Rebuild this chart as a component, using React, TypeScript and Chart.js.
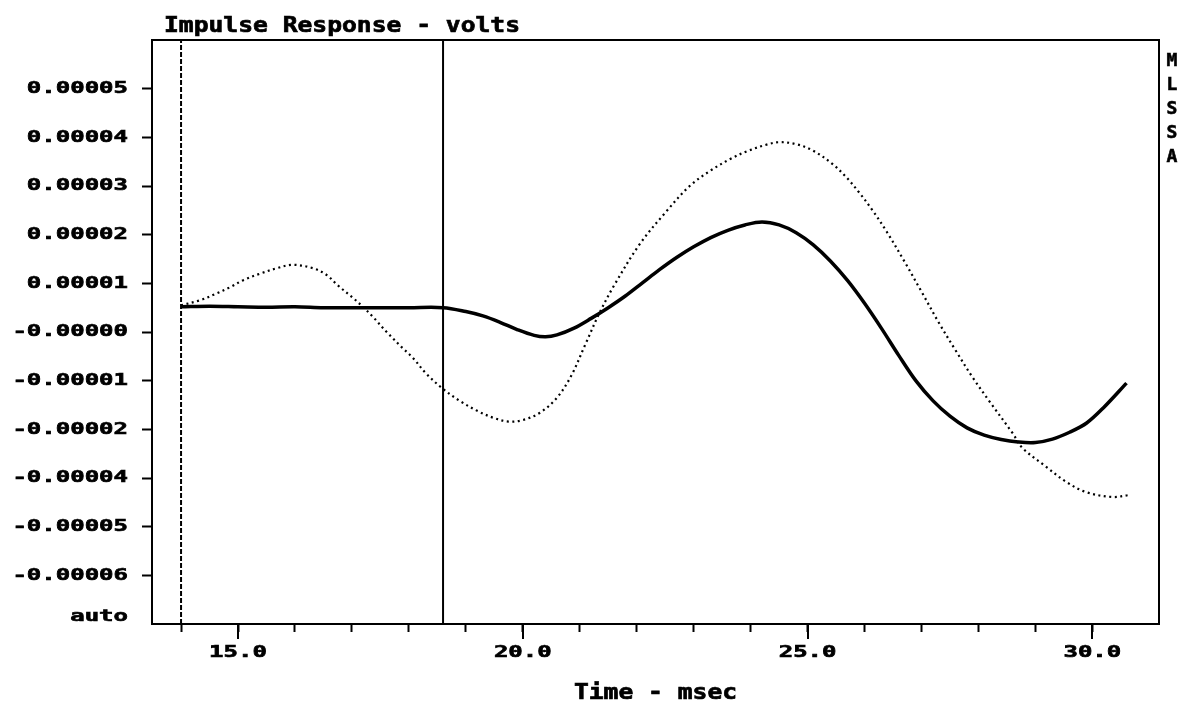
import React, { useEffect, useRef } from 'react';
import { Chart, registerables } from 'chart.js';

Chart.register(...registerables);

// ---- data (time in msec, response in volts) ----
const solidTime = [14.0, 14.5, 15.0, 15.5, 16.0, 16.5, 17.0, 17.5, 18.0, 18.6, 19.0, 19.3, 19.6, 19.9, 20.2, 20.4, 20.6, 20.9, 21.2, 21.5, 21.8, 22.1, 22.4, 22.7, 23.0, 23.3, 23.6, 23.9, 24.2, 24.5, 24.8, 25.1, 25.4, 25.7, 26.0, 26.3, 26.6, 26.9, 27.2, 27.5, 27.8, 28.1, 28.4, 28.7, 29.0, 29.3, 29.6, 29.9, 30.2, 30.6];
const solidVolts = [5.2e-6, 5.3e-6, 5.2e-6, 5.1e-6, 5.2e-6, 5.0e-6, 5.0e-6, 5.0e-6, 5.0e-6, 5.0e-6, 4.2e-6, 3.3e-6, 2.0e-6, 0.5e-6, -0.7e-6, -1.0e-6, -0.6e-6, 0.8e-6, 2.8e-6, 5.0e-6, 7.4e-6, 10.1e-6, 12.8e-6, 15.3e-6, 17.5e-6, 19.4e-6, 20.9e-6, 22.0e-6, 22.6e-6, 22.0e-6, 20.4e-6, 17.9e-6, 14.6e-6, 10.6e-6, 5.9e-6, 0.7e-6, -4.8e-6, -10.0e-6, -14.1e-6, -17.3e-6, -19.7e-6, -21.2e-6, -22.1e-6, -22.6e-6, -22.7e-6, -22.0e-6, -20.6e-6, -18.7e-6, -15.5e-6, -10.5e-6];

const dottedTime = [14.0, 14.33, 14.6, 14.86, 15.1, 15.39, 15.68, 15.96, 16.32, 16.56, 16.74, 17.02, 17.19, 17.37, 17.61, 17.89, 18.07, 18.3, 18.6, 18.9, 19.2, 19.5, 19.75, 20.0, 20.3, 20.6, 20.85, 21.1, 21.35, 21.6, 22.05, 22.5, 22.93, 23.3, 23.65, 23.95, 24.28, 24.5, 24.8, 25.09, 25.44, 25.68, 25.91, 26.14, 26.39, 26.7, 27.0, 27.3, 27.6, 27.89, 28.19, 28.6, 28.77, 29.19, 29.54, 29.89, 30.35, 30.65];
const dottedVolts = [5.5e-6, 6.5e-6, 7.8e-6, 9.2e-6, 10.7e-6, 12.0e-6, 13.1e-6, 13.8e-6, 13.1e-6, 11.7e-6, 9.7e-6, 7.0e-6, 5.2e-6, 3.1e-6, 0.0e-6, -3.3e-6, -5.3e-6, -8.5e-6, -11.7e-6, -14.2e-6, -16.2e-6, -17.7e-6, -18.4e-6, -18.1e-6, -16.6e-6, -13.5e-6, -9.0e-6, -2.5e-6, 4.0e-6, 9.5e-6, 18.0e-6, 24.5e-6, 30.0e-6, 33.2e-6, 35.6e-6, 37.2e-6, 38.5e-6, 39.0e-6, 38.6e-6, 37.3e-6, 34.5e-6, 31.8e-6, 28.6e-6, 25.0e-6, 20.6e-6, 14.5e-6, 8.3e-6, 2.0e-6, -3.8e-6, -9.2e-6, -14.2e-6, -20.8e-6, -23.8e-6, -27.7e-6, -30.8e-6, -32.9e-6, -33.9e-6, -33.5e-6];

const cursorTimes = [14.0, 18.6];

const xRange = [13.49, 31.17];
const yRange = [-6.0e-5, 6.0e-5];

const xTickValues = [14, 15, 16, 17, 18, 19, 20, 21, 22, 23, 24, 25, 26, 27, 28, 29, 30];
const xMajorTicks = [15, 20, 25, 30];
const xMajorLabels = ['15.0', '20.0', '25.0', '30.0'];

const yTickValues = [5e-5, 4e-5, 3e-5, 2e-5, 1e-5, 0, -1e-5, -2e-5, -3e-5, -4e-5, -5e-5];
const yTickLabels = ['0.00005', '0.00004', '0.00003', '0.00002', '0.00001', '-0.00000', '-0.00001', '-0.00002', '-0.00004', '-0.00005', '-0.00006'];

const titleText = 'Impulse Response - volts';
const xTitleText = 'Time - msec';
const sideLetters = ['M', 'L', 'S', 'S', 'A'];
const scaleModeText = 'auto';

const FONT = '"DejaVu Sans Mono", "Liberation Mono", monospace';

function wideText(
  ctx: CanvasRenderingContext2D,
  text: string,
  x: number,
  y: number,
  sx: number,
  font: string,
  align: CanvasTextAlign,
  baseline: CanvasTextBaseline,
  stroke: number
) {
  ctx.save();
  ctx.translate(x, y);
  ctx.scale(sx, 1);
  ctx.font = font;
  ctx.textAlign = align;
  ctx.textBaseline = baseline;
  ctx.fillStyle = '#000';
  ctx.fillText(text, 0, 0);
  if (stroke > 0) {
    ctx.strokeStyle = '#000';
    ctx.lineWidth = stroke;
    ctx.strokeText(text, 0, 0);
  }
  ctx.restore();
}

const decorPlugin = {
  id: 'decor',
  afterDraw(chart: any) {
    const { ctx, chartArea, scales } = chart;
    ctx.save();
    ctx.strokeStyle = '#000';
    ctx.lineWidth = 2;
    ctx.strokeRect(chartArea.left, chartArea.top, chartArea.right - chartArea.left, chartArea.bottom - chartArea.top);
    // long major ticks
    ctx.beginPath();
    xMajorTicks.forEach((v) => {
      const px = Math.round(scales.x.getPixelForValue(v));
      ctx.moveTo(px, chartArea.bottom);
      ctx.lineTo(px, chartArea.bottom + 15);
    });
    ctx.stroke();
    ctx.restore();

    const tickFont = `bold 15px ${FONT}`;
    yTickValues.forEach((v, i) => {
      const py = scales.y.getPixelForValue(v);
      wideText(ctx, yTickLabels[i], 128, py + 0.5, 1.6, tickFont, 'right', 'middle', 0.6);
    });
    xMajorTicks.forEach((v, i) => {
      const px = scales.x.getPixelForValue(v);
      wideText(ctx, xMajorLabels[i], px, 653.5, 1.6, tickFont, 'center', 'middle', 0.6);
    });
    wideText(ctx, scaleModeText, 128, 617, 1.6, tickFont, 'right', 'middle', 0.6);

    const titleFont = `bold 22px ${FONT}`;
    wideText(ctx, titleText, 164, 32, 1.12, titleFont, 'left', 'alphabetic', 0.7);
    wideText(ctx, xTitleText, (chartArea.left + chartArea.right) / 2, 699, 1.12, titleFont, 'center', 'alphabetic', 0.7);

    const sideFont = `bold 18px ${FONT}`;
    sideLetters.forEach((ch, i) => {
      wideText(ctx, ch, 1172, 61 + i * 24.2, 1.0, sideFont, 'center', 'middle', 0.6);
    });
  },
};

export default function App() {
  const ref = useRef<HTMLCanvasElement | null>(null);

  useEffect(() => {
    document.body.style.margin = '0';
    const canvas = ref.current;
    if (!canvas) return;
    const solid = solidTime.map((t, i) => ({ x: t, y: solidVolts[i] }));
    const dotted = dottedTime.map((t, i) => ({ x: t, y: dottedVolts[i] }));
    const cursorSets = cursorTimes.map((t, i) => ({
      data: [{ x: t, y: yRange[0] }, { x: t, y: yRange[1] }],
      borderColor: '#000',
      borderWidth: 2,
      borderDash: i === 0 ? [5, 2] : [],
      pointRadius: 0,
      tension: 0,
    }));

    const chart = new Chart(canvas, {
      type: 'line',
      data: {
        datasets: [
          ...cursorSets,
          {
            data: dotted,
            borderColor: '#000',
            borderWidth: 2.2,
            borderDash: [2, 3.5],
            pointRadius: 0,
            tension: 0.35,
          },
          {
            data: solid,
            borderColor: '#000',
            borderWidth: 3.5,
            pointRadius: 0,
            tension: 0.35,
          },
        ] as any,
      },
      options: {
        responsive: false,
        animation: false,
        events: [],
        layout: { padding: { left: 0, top: 40, right: 36, bottom: 0 } },
        plugins: { legend: { display: false }, title: { display: false }, tooltip: { enabled: false } },
        scales: {
          x: {
            type: 'linear',
            min: xRange[0],
            max: xRange[1],
            border: { display: false },
            grid: { drawOnChartArea: false, drawTicks: true, tickLength: 8, tickWidth: 2, color: '#000' },
            afterBuildTicks: (scale: any) => {
              scale.ticks = xTickValues.map((v) => ({ value: v }));
            },
            afterFit: (scale: any) => {
              scale.height = 82;
            },
            ticks: { display: false, autoSkip: false },
          },
          y: {
            type: 'linear',
            min: yRange[0],
            max: yRange[1],
            border: { display: false },
            grid: { drawOnChartArea: false, drawTicks: true, tickLength: 10, tickWidth: 2, color: '#000' },
            afterBuildTicks: (scale: any) => {
              scale.ticks = yTickValues.map((v) => ({ value: v }));
            },
            afterFit: (scale: any) => {
              scale.width = 152;
            },
            ticks: { display: false, autoSkip: false },
          },
        },
      } as any,
      plugins: [decorPlugin],
    });
    return () => chart.destroy();
  }, []);

  return (
    <div style={{ position: 'absolute', left: 0, top: 0, width: 1195, height: 706, background: '#fff' }}>
      <canvas ref={ref} width={1195} height={706} style={{ width: 1195, height: 706, display: 'block' }} />
    </div>
  );
}
